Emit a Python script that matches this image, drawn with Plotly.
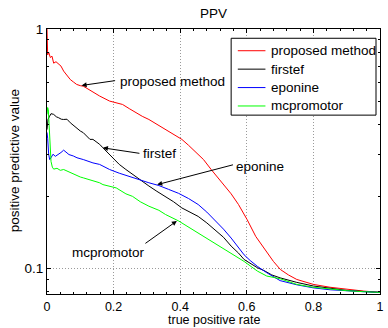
import math
import plotly.graph_objects as go

# ---------------- data ----------------
series_names = ["proposed method", "firstef", "eponine", "mcpromotor"]
series_colors = ["#ff0000", "#000000", "#0000ff", "#00ff00"]

proposed_x = [0, 0.002, 0.005, 0.01, 0.015, 0.02, 0.027, 0.035, 0.042, 0.05, 0.06, 0.07, 0.08, 0.089,
              0.1, 0.109, 0.12, 0.138, 0.158, 0.188, 0.208, 0.227, 0.247, 0.267, 0.286, 0.306, 0.33,
              0.356, 0.38, 0.405, 0.425, 0.444, 0.47, 0.493, 0.52, 0.553, 0.575, 0.601, 0.627, 0.661,
              0.68, 0.701, 0.725, 0.75, 0.8, 0.85, 0.9, 0.95, 1.0]
proposed_y = [1.0, 0.78, 0.80, 0.76, 0.77, 0.72, 0.73, 0.71, 0.70, 0.667, 0.64, 0.615, 0.60, 0.587,
              0.58, 0.577, 0.565, 0.545, 0.525, 0.5, 0.49, 0.484, 0.465, 0.447, 0.432, 0.419, 0.40,
              0.38, 0.362, 0.346, 0.327, 0.309, 0.285, 0.259, 0.232, 0.205, 0.185, 0.16, 0.136, 0.116,
              0.107, 0.099, 0.094, 0.09, 0.0858, 0.0835, 0.0818, 0.0805, 0.0795]

firstef_x = [0, 0.003, 0.007, 0.012, 0.02, 0.028, 0.035, 0.043, 0.05, 0.06, 0.07, 0.08, 0.089, 0.1,
             0.109, 0.12, 0.129, 0.138, 0.158, 0.168, 0.198, 0.217, 0.237, 0.257, 0.277, 0.306, 0.33,
             0.356, 0.38, 0.405, 0.43, 0.454, 0.48, 0.503, 0.53, 0.553, 0.575, 0.592, 0.61, 0.632,
             0.652, 0.675, 0.7, 0.75, 0.8, 0.85, 0.9, 0.95, 1.0]
firstef_y = [0.38, 0.42, 0.43, 0.443, 0.44, 0.43, 0.426, 0.42, 0.419, 0.42, 0.406, 0.395, 0.387, 0.375,
             0.369, 0.358, 0.346, 0.346, 0.33, 0.319, 0.29, 0.272, 0.259, 0.247, 0.235, 0.221, 0.21,
             0.2, 0.19, 0.179, 0.172, 0.165, 0.155, 0.146, 0.135, 0.124, 0.116, 0.109, 0.105, 0.1007,
             0.098, 0.094, 0.0914, 0.0875, 0.0845, 0.0825, 0.081, 0.0802, 0.0795]

eponine_x = [0, 0.002, 0.005, 0.008, 0.012, 0.018, 0.025, 0.035, 0.042, 0.05, 0.058, 0.066, 0.079,
             0.09, 0.109, 0.125, 0.138, 0.158, 0.188, 0.217, 0.247, 0.277, 0.306, 0.336, 0.365, 0.395,
             0.425, 0.454, 0.48, 0.503, 0.53, 0.553, 0.575, 0.592, 0.61, 0.632, 0.66, 0.7, 0.75, 0.8,
             0.85, 0.9, 0.95, 1.0]
eponine_y = [0.37, 0.35, 0.30, 0.285, 0.29, 0.3, 0.294, 0.299, 0.305, 0.312, 0.305, 0.299, 0.295,
             0.29, 0.285, 0.279, 0.276, 0.272, 0.259, 0.25, 0.243, 0.235, 0.228, 0.222, 0.214, 0.206,
             0.196, 0.185, 0.172, 0.16, 0.146, 0.134, 0.122, 0.114, 0.108, 0.102, 0.096, 0.089, 0.0855,
             0.083, 0.0815, 0.0805, 0.08, 0.0795]

mcpromotor_x = [0, 0.002, 0.004, 0.006, 0.009, 0.012, 0.016, 0.02, 0.03, 0.04, 0.05, 0.06, 0.073,
                0.083, 0.1, 0.109, 0.129, 0.158, 0.168, 0.208, 0.237, 0.257, 0.28, 0.306, 0.336, 0.356,
                0.395, 0.425, 0.454, 0.484, 0.503, 0.553, 0.592, 0.632, 0.66, 0.7, 0.75, 0.8, 0.85, 0.9,
                0.95, 1.0]
mcpromotor_y = [0.44, 0.47, 0.46, 0.40, 0.33, 0.28, 0.265, 0.26, 0.262, 0.257, 0.259, 0.255, 0.251,
                0.247, 0.241, 0.239, 0.235, 0.228, 0.224, 0.217, 0.205, 0.2, 0.19, 0.182, 0.175, 0.168,
                0.158, 0.149, 0.141, 0.132, 0.128, 0.116, 0.107, 0.0975, 0.093, 0.0906, 0.0858, 0.0835,
                0.082, 0.0808, 0.08, 0.0795]

x_tick_vals = [0, 0.2, 0.4, 0.6, 0.8, 1]
x_tick_text = ["0", "0.2", "0.4", "0.6", "0.8", "1"]
y_tick_vals = [0.1, 1]
y_tick_text = ["0.1", "1"]
y_minor_vals = [0.08, 0.09, 0.2, 0.3, 0.4, 0.5, 0.6, 0.7, 0.8, 0.9]

# annotation labels: (text, arrow head x, head y, tail x, tail y, text x, text y)
callouts = [
    ("proposed method", 0.104, 0.581, 0.209, 0.61, 0.212, 0.602),
    ("firstef", 0.168, 0.319, 0.282, 0.302, 0.283, 0.302),
    ("eponine", 0.331, 0.224, 0.563, 0.272, 0.562, 0.267),
    ("mcpromotor", 0.39, 0.158, 0.291, 0.126, 0.1855, 0.117),
]

FONT = "Liberation Sans, Arial, sans-serif"
FS = 13.5
FS_X = 12.5
GRID = "#9a9a9a"

all_x = [proposed_x, firstef_x, eponine_x, mcpromotor_x]
all_y = [proposed_y, firstef_y, eponine_y, mcpromotor_y]

fig = go.Figure()
for name, col, xs, ys in zip(series_names, series_colors, all_x, all_y):
    fig.add_trace(go.Scatter(x=xs, y=ys, mode="lines", name=name,
                             line=dict(color=col, width=1), showlegend=False))

annotations = []
for text, hx, hy, tx, ty, lx, ly in callouts:
    annotations.append(dict(x=hx, y=math.log10(hy), ax=tx, ay=math.log10(ty), xref="x", yref="y",
                            axref="x", ayref="y", text="", showarrow=True, arrowhead=2,
                            arrowsize=1, arrowwidth=1, arrowcolor="black"))
    anchor = "center" if text == "mcpromotor" else "left"
    annotations.append(dict(x=lx, y=math.log10(ly), xref="x", yref="y", text=text,
                            showarrow=False, xanchor=anchor, yanchor="middle",
                            font=dict(family=FONT, size=FS, color="black")))

# axis titles
annotations.append(dict(x=0.5, y=-0.0985, xref="paper", yref="paper", text="true positive rate",
                        showarrow=False, xanchor="center", yanchor="middle", borderpad=0,
                        font=dict(family=FONT, size=FS_X, color="black")))
annotations.append(dict(x=-0.095, y=0.502, xref="paper", yref="paper", text="positive predictive value",
                        showarrow=False, xanchor="center", yanchor="middle", textangle=-90,
                        font=dict(family=FONT, size=FS, color="black")))

# manual legend
shapes = [dict(type="rect", xref="paper", yref="paper", x0=0.553, x1=0.988, y0=0.675, y1=0.965,
               line=dict(color="black", width=1), fillcolor="white", layer="above")]
row_y0 = 0.918
row_step = 0.0695
for i, (name, col) in enumerate(zip(series_names, series_colors)):
    yy = row_y0 - i * row_step
    shapes.append(dict(type="line", xref="paper", yref="paper", x0=0.573, x1=0.656, y0=yy, y1=yy,
                       line=dict(color=col, width=1), layer="above"))
    annotations.append(dict(x=0.666, y=yy, xref="paper", yref="paper", text=name, showarrow=False,
                            xanchor="left", yanchor="middle",
                            font=dict(family=FONT, size=FS, color="black")))

fig.update_layout(
    width=388, height=328,
    margin=dict(l=47, r=4, t=29, b=34),
    paper_bgcolor="white", plot_bgcolor="white",
    title=dict(text="PPV", x=0.5, xref="paper", y=(328 - 13) / 328, yref="container",
               xanchor="center", yanchor="middle", font=dict(family=FONT, size=FS, color="black")),
    font=dict(family=FONT, size=FS, color="black"),
    showlegend=False,
    annotations=annotations,
    shapes=shapes,
)
fig.update_xaxes(range=[0, 1], tickvals=x_tick_vals, ticktext=x_tick_text, ticks="inside", ticklen=4,
                 tickcolor="black", showline=True, linecolor="black", linewidth=1, mirror="ticks",
                 showgrid=True, gridcolor=GRID, griddash="1px,2px", gridwidth=1, zeroline=False,
                 ticklabelstandoff=1,
                 tickfont=dict(family=FONT, size=FS_X, color="black"),
                 minor=dict(tick0=0, dtick=0.04, ticks="inside", ticklen=2, tickcolor="black",
                            showgrid=False))
fig.update_yaxes(type="log", range=[-1.1065, 0], tickvals=y_tick_vals, ticktext=y_tick_text,
                 ticks="inside", ticklen=4, tickcolor="black", showline=True, linecolor="black",
                 linewidth=1, mirror="ticks", showgrid=True, gridcolor=GRID, griddash="1px,2px",
                 gridwidth=1, zeroline=False, tickfont=dict(family=FONT, size=FS, color="black"),
                 minor=dict(tickvals=y_minor_vals, ticks="inside", ticklen=2, tickcolor="black",
                            showgrid=False))

fig.write_html("out.html")
